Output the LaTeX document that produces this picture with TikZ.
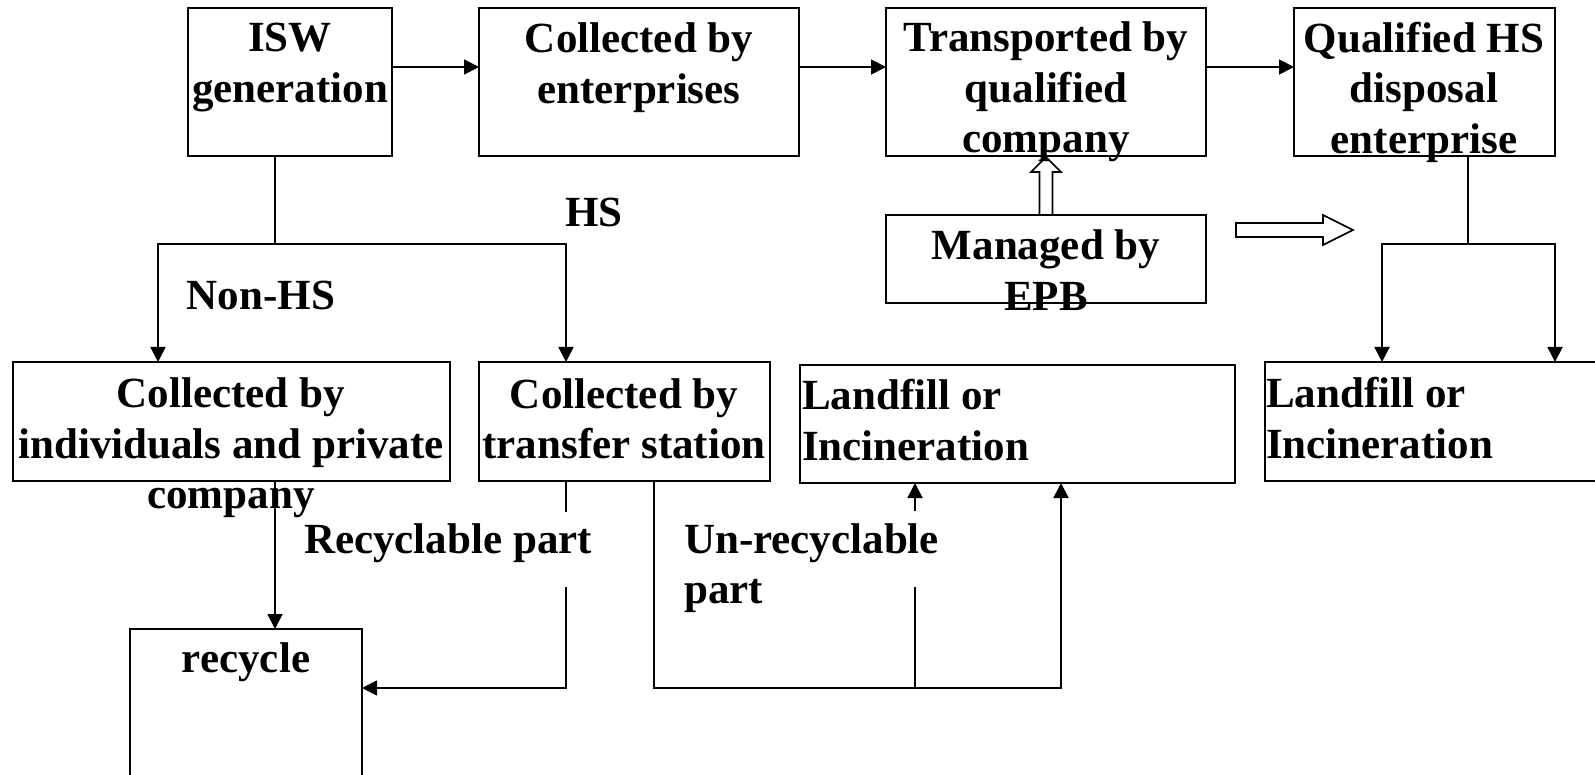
\documentclass[tikz,border=0pt]{standalone}
\usepackage{fontspec}
\setmainfont{Liberation Serif}
\usetikzlibrary{arrows.meta,calc}
\begin{document}
\begin{tikzpicture}[x=1pt,y=-1pt,
  box/.style={draw, line width=1.8pt, inner sep=0pt, outer sep=0pt},
  txt/.style={font=\fontsize{43}{50.5}\selectfont\bfseries, inner sep=0pt, align=center},
  arr/.style={line width=1.8pt, -{Triangle[length=15pt,width=15pt]}},
  ln/.style={line width=1.8pt},
  hollow/.style={line width=1.6pt, line join=miter}]
\useasboundingbox (0,0) rectangle (1595,775);
\clip (0,0) rectangle (1595,775);
% boxes
\node[box, minimum width=204pt, minimum height=148pt] (isw) at (290,82) {};
\node[box, minimum width=320pt, minimum height=148pt] (ent) at (639,82) {};
\node[box, minimum width=320pt, minimum height=148pt] (trans) at (1046,82) {};
\node[box, minimum width=261pt, minimum height=148pt] (qual) at (1424.5,82) {};
\node[box, minimum width=320pt, minimum height=88pt] (epb) at (1046,259) {};
\node[box, minimum width=437pt, minimum height=119pt] (ind) at (231.5,421.5) {};
\node[box, minimum width=291pt, minimum height=119pt] (tra) at (624.5,421.5) {};
\node[box, minimum width=435pt, minimum height=118pt] (lf1) at (1017.5,424) {};
\node[box, minimum width=345pt, minimum height=119pt] (lf2) at (1437.5,421.5) {};
\node[box, minimum width=232pt, minimum height=162pt] (rec) at (246,710) {};
% texts
\node[txt] (tisw) at (290,67.5) {ISW\\generation};
\node[txt] (tent) at (639,67.5) {Collected by\\enterprises};
\node[txt] (ttrans) at (1046,92) {Transported by\\qualified\\company};
\node[txt] (tqual) at (1424,92) {Qualified HS\\disposal\\enterprise};
\node[txt] (tepb) at (1046,270) {Managed by\\EPB};
\node[txt] (tind) at (231,448) {Collected by\\individuals and private\\company};
\node[txt] (ttra) at (624,419) {Collected by\\transfer station};
\node[txt, align=left, anchor=west] (tlf1) at (802,420) {Landfill or\\Incineration};
\node[txt, align=left, anchor=west] (tlf2) at (1266,418) {Landfill or\\Incineration};
\node[txt] (trec) at (246,662) {recycle};
\node[txt] (ths) at (594,212) {HS};
\node[txt] (tnhs) at (261,295) {Non-HS};
\node[txt] (trp) at (448,543) {Recyclable part};
\node[txt, align=left, anchor=west] (tup) at (684,568) {Un-recyclable\\part};
% top row arrows
\draw[arr] ([yshift=15pt]isw.east) -- ([yshift=15pt]ent.west);
\draw[arr] ([yshift=15pt]ent.east) -- ([yshift=15pt]trans.west);
\draw[arr] ([yshift=15pt]trans.east) -- ([yshift=15pt]qual.west);
% ISW split
\coordinate (j1) at (275,244);
\draw[ln] (isw.south -| j1) -- (j1);
\draw[arr] (j1) -| ([xshift=-73.5pt]ind.north);
\draw[arr] (j1) -| ([xshift=-58.5pt]tra.north);
% individuals -> recycle
\draw[arr] (ind.south -| j1) -- (rec.north -| j1);
% recyclable part
\coordinate (g1) at (566,512);
\coordinate (g2) at (566,587);
\draw[ln] (tra.south -| g1) -- (g1);
\draw[arr] (g2) |- ([yshift=22pt]rec.east);
% un-recyclable part
\coordinate (u1) at (654,688);
\coordinate (u2) at (1061,688);
\coordinate (u3) at (915,688);
\coordinate (u4) at (915,587);
\coordinate (u5) at (915,511);
\draw[arr] (tra.south -| u1) -- (u1) -- (u2) -- (lf1.south -| u2);
\draw[ln] (u3) -- (u4);
\draw[arr] (u5) -- (lf1.south -| u3);
% qualified HS split
\coordinate (j2) at (1468,244);
\draw[ln] (qual.south -| j2) -- (j2);
\draw[arr] (j2) -| ([xshift=-55.5pt]lf2.north);
\draw[arr] (j2) -| ([xshift=117.5pt]lf2.north);
% hollow arrows
\draw[hollow] ([xshift=-6.5pt]epb.north) -- ([xshift=-6.5pt,yshift=-16pt]trans.south)
  -- ([xshift=-15pt,yshift=-16pt]trans.south) -- ([yshift=-1pt]trans.south)
  -- ([xshift=15pt,yshift=-16pt]trans.south) -- ([xshift=6.5pt,yshift=-16pt]trans.south)
  -- ([xshift=6.5pt]epb.north) -- cycle;
\draw[hollow] (1236,223) -- (1323,223) -- (1323,215) -- (1353,230) -- (1323,245)
  -- (1323,237) -- (1236,237) -- cycle;
\end{tikzpicture}
\end{document}
